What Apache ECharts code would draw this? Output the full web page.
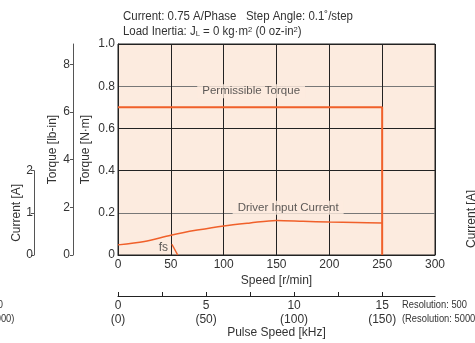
<!DOCTYPE html>
<html><head><meta charset="utf-8">
<script src="https://cdn.jsdelivr.net/npm/echarts@6/dist/echarts.min.js"></script>
<style>html,body{margin:0;padding:0;background:#fff}#c{width:475px;height:343px}</style>
</head><body><div id="c"></div>
<script>
// ---- data ----
const speedCats = [0, 25, 50, 75, 100, 125, 150, 175, 200, 225, 250];
const driverCurrentA = [0.24, 0.32, 0.47, 0.59, 0.69, 0.76, 0.82, 0.80, 0.78, 0.77, 0.76];
const permSpeed = [0, 250, 250];
const permTorque = [0.7, 0.7, 0];
const fsSpeed = [51, 56.5];
const fsTorque = [0.051, 0];
const lbinTicks = [0, 2, 4, 6, 8];
const currentTicks = [0, 1, 2];
const pulseLabelTicks = [0, 5, 10, 15];
const pulseMinorTicks = [0, 2.5, 5, 7.5, 10, 12.5, 15];

const FONT = '"Liberation Sans", Arial, sans-serif';
const TXT = '#333';
const ORANGE = '#f0602a';
const BG = '#fcebdf';
const GRID = '#222';
const LEAD = '#777';

const chart = echarts.init(document.getElementById('c'), null, {renderer: 'canvas'});
const zip = (a, b) => a.map((v, i) => [v, b[i]]);

chart.setOption({
  animation: false,
  textStyle: {fontFamily: FONT, color: TXT},
  grid: [
    {left: 118, right: 40, top: 44, bottom: 88, show: true, backgroundColor: BG, borderColor: GRID, borderWidth: 1,
     containLabel: false, outerBoundsMode: 'none'},
    {left: 118, right: 40, top: 170.7, bottom: 88, show: false, containLabel: false, outerBoundsMode: 'none'}
  ],
  xAxis: [
    {gridIndex: 0, type: 'value', min: 0, max: 300, interval: 50, position: 'bottom',
     axisLine: {show: true, onZero: false, lineStyle: {color: GRID, width: 1}}, axisTick: {show: false},
     axisLabel: {color: TXT, fontSize: 12, margin: 4, fontFamily: FONT},
     splitLine: {show: true, lineStyle: {color: GRID, width: 1}},
     name: 'Speed [r/min]', nameLocation: 'middle', nameGap: 20, nameMoveOverlap: false,
     nameTextStyle: {color: TXT, fontSize: 12, fontFamily: FONT}},
    {gridIndex: 0, type: 'value', min: 0, max: 18, position: 'bottom', offset: 41,
     axisLine: {show: true, onZero: false, lineStyle: {color: GRID, width: 1}},
     axisTick: {show: true, inside: true, length: 4, customValues: pulseMinorTicks, lineStyle: {color: GRID}},
     axisLabel: {color: TXT, fontSize: 12, margin: 3, lineHeight: 14, fontFamily: FONT,
       customValues: pulseLabelTicks,
       formatter: v => v + '\n(' + (v * 10) + ')'},
     splitLine: {show: false},
     name: 'Pulse Speed [kHz]', nameLocation: 'middle', nameGap: 31, nameMoveOverlap: false,
     nameTextStyle: {color: TXT, fontSize: 12, fontFamily: FONT}},
    {gridIndex: 1, type: 'value', min: 0, max: 300, show: false}
  ],
  yAxis: [
    {gridIndex: 0, type: 'value', min: 0, max: 1, interval: 0.2, position: 'left',
     axisLine: {show: true, onZero: false, lineStyle: {color: GRID}}, axisTick: {show: false},
     axisLabel: {color: TXT, fontSize: 12, margin: 3, fontFamily: FONT,
       formatter: v => v === 0 ? '0' : v.toFixed(1)},
     splitLine: {show: true, lineStyle: {color: [GRID, LEAD, GRID, GRID, LEAD, GRID], width: 1}},
     name: 'Torque [N·m]', nameLocation: 'middle', nameGap: 26, nameMoveOverlap: false,
     nameTextStyle: {color: TXT, fontSize: 12, fontFamily: FONT}},
    {gridIndex: 0, type: 'value', min: 0, max: 1 / 0.113, position: 'left', offset: 45,
     axisLine: {show: true, onZero: false, lineStyle: {color: '#555'}},
     axisTick: {show: true, length: 3, customValues: lbinTicks, lineStyle: {color: '#555'}},
     axisLabel: {color: TXT, fontSize: 12, margin: 3, fontFamily: FONT, customValues: lbinTicks},
     splitLine: {show: false},
     name: 'Torque [lb-in]', nameLocation: 'middle', nameGap: 14, nameMoveOverlap: false,
     nameTextStyle: {color: TXT, fontSize: 12, fontFamily: FONT}},
    {gridIndex: 0, type: 'value', min: 0, max: 5, show: false},
    {gridIndex: 1, type: 'value', min: 0, max: 2, interval: 1, position: 'left', offset: 84,
     axisLine: {show: true, onZero: false, lineStyle: {color: '#555'}},
     axisTick: {show: true, length: 3, customValues: currentTicks, lineStyle: {color: '#555'}},
     axisLabel: {color: TXT, fontSize: 12, margin: 1, fontFamily: FONT, customValues: currentTicks},
     splitLine: {show: false},
     name: 'Current [A]', nameLocation: 'middle', nameGap: 11, nameMoveOverlap: false,
     nameTextStyle: {color: TXT, fontSize: 12, fontFamily: FONT}}
  ],
  series: [
    {type: 'line', xAxisIndex: 0, yAxisIndex: 0, data: zip(permSpeed, permTorque),
     symbol: 'none', lineStyle: {color: ORANGE, width: 2}, z: 5},
    {type: 'line', xAxisIndex: 0, yAxisIndex: 2, data: zip(speedCats, driverCurrentA),
     symbol: 'none', smooth: 0.3, lineStyle: {color: ORANGE, width: 1.5}, z: 5},
    {type: 'line', xAxisIndex: 0, yAxisIndex: 0, data: zip(fsSpeed, fsTorque),
     symbol: 'none', lineStyle: {color: ORANGE, width: 1.5}, z: 5},
    {type: 'scatter', xAxisIndex: 0, yAxisIndex: 0, symbolSize: 0, z: 6,
     data: [
       {value: [126, 0.8], label: {show: true, formatter: 'Permissible Torque', offset: [0, 5]}},
       {value: [161, 0.2], label: {show: true, formatter: 'Driver Input Current', offset: [0, -5]}},
       {value: [43, 0.039], label: {show: true, formatter: 'fs', backgroundColor: 'transparent', padding: 0, offset: [0, 1], fontSize: 12}}
     ],
     label: {position: 'inside', color: TXT, fontSize: 11.5, fontFamily: FONT,
       backgroundColor: BG, padding: [1, 5]}}
  ],
  graphic: [
    {type: 'text', x: 123, y: 11, scaleX: 0.955, style: {text: 'Current: 0.75 A/Phase   Step Angle: 0.1˚/step', fill: TXT, font: '12px ' + FONT}},
    {type: 'text', x: 123, y: 26, scaleX: 0.955, style: {rich: {s: {fontSize: 8, verticalAlign: 'bottom'}, b: {fontSize: 8, verticalAlign: 'top'}},
      text: 'Load Inertia: J{s|L} = 0 kg·m{b|2} (0 oz-in{b|2})', fill: TXT, font: '12px ' + FONT}},
    {type: 'text', x: 402, y: 298, scaleX: 0.85, style: {text: 'Resolution: 500\n(Resolution: 5000)', fill: TXT, font: '11px ' + FONT, lineHeight: 14}},
    {type: 'text', x: -62, y: 298, scaleX: 0.85, style: {text: 'Resolution: 500\n(Resolution: 5000)', fill: TXT, font: '11px ' + FONT, lineHeight: 14}},
    {type: 'text', x: 472, y: 219, rotation: Math.PI / 2, style: {text: 'Current [A]', fill: TXT, font: '12px ' + FONT, align: 'center', verticalAlign: 'middle'}}
  ]
});
</script></body></html>
